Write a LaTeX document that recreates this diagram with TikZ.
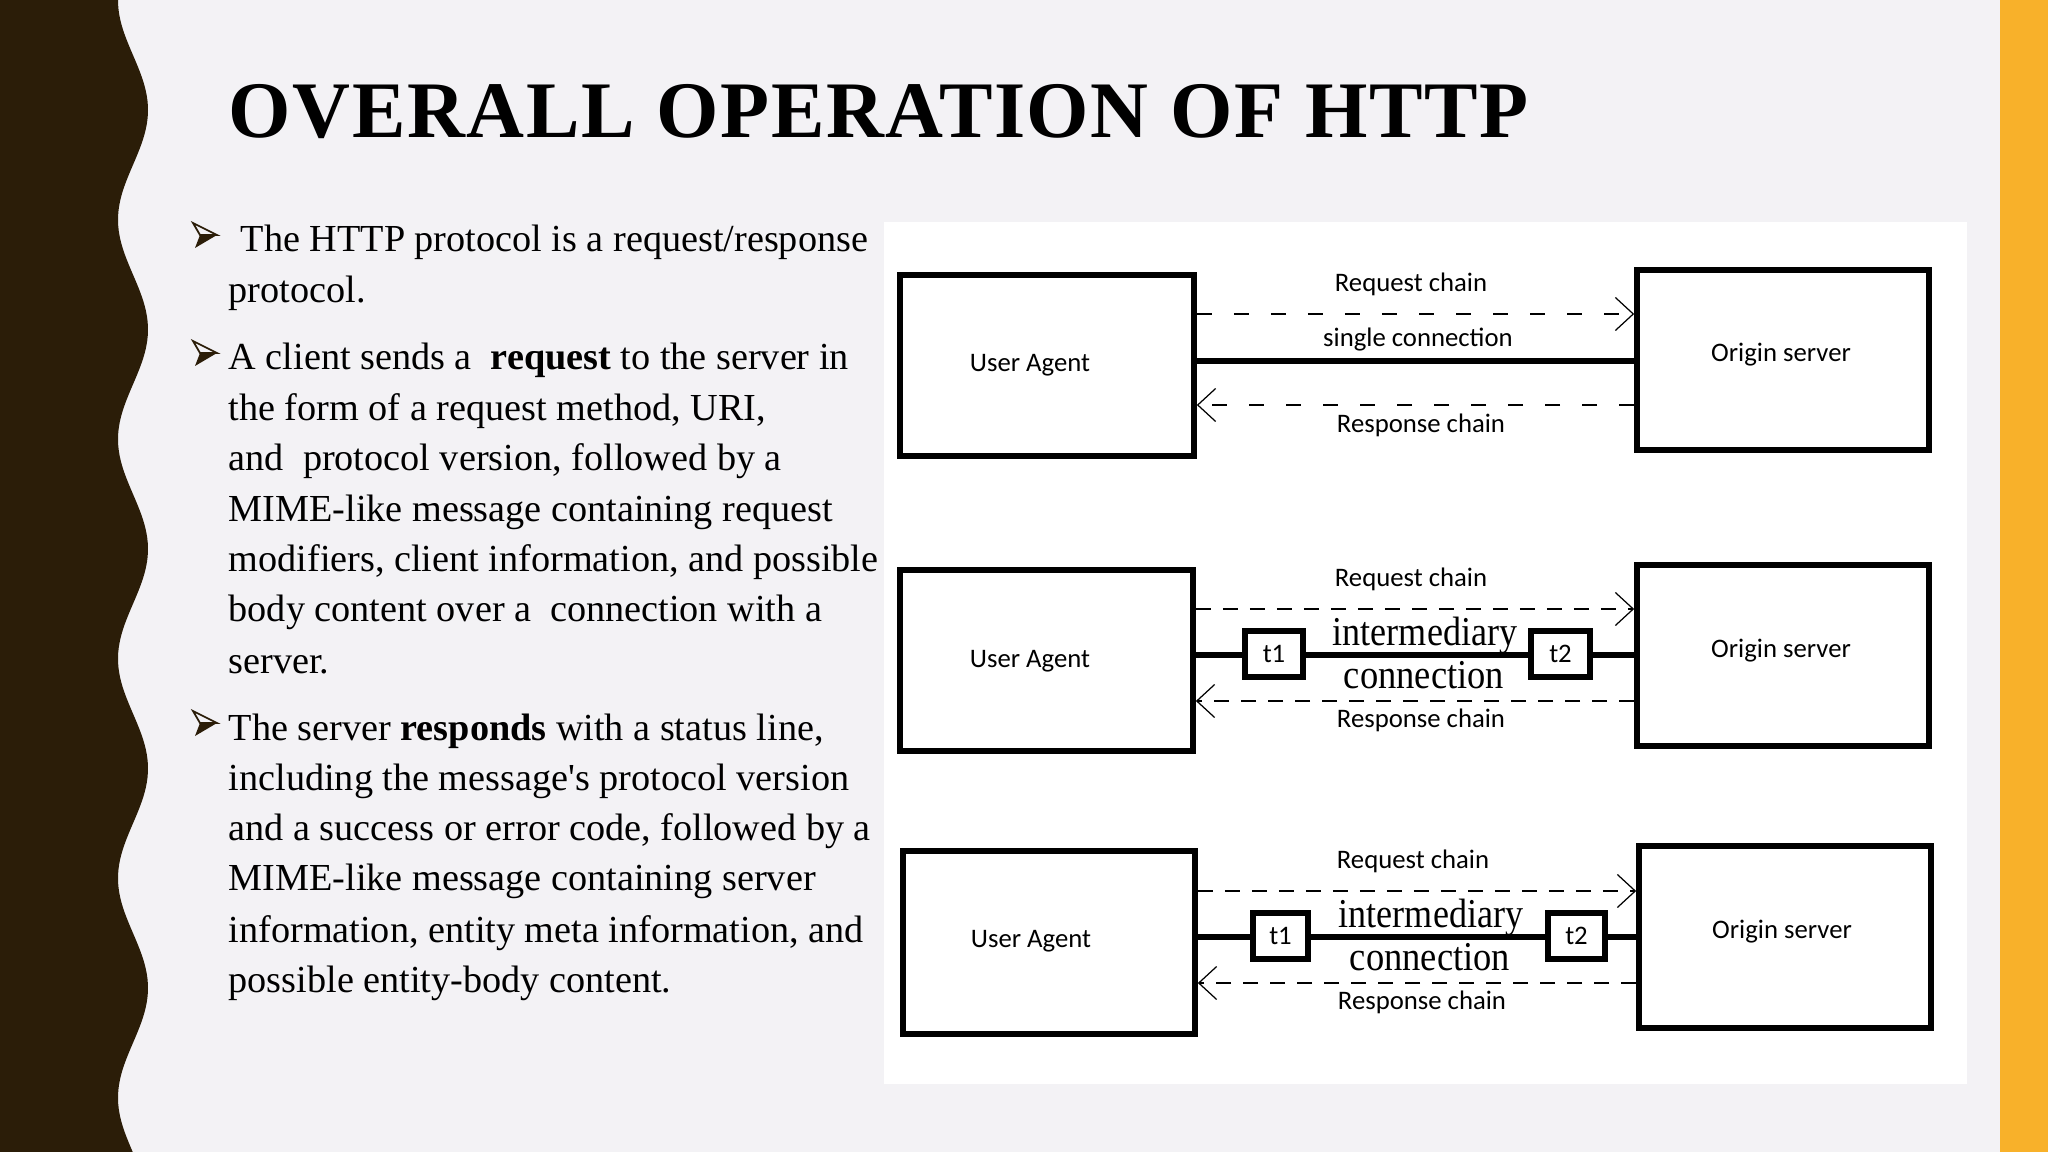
\documentclass[tikz,border=0pt]{standalone}
\usepackage{fontspec}
\usepackage{graphicx}
\setmainfont{Liberation Serif}
\newfontfamily\carl{Carlito}
\newfontfamily\titlefont[LetterSpace=2.0]{Liberation Serif}
\usetikzlibrary{arrows.meta}
\definecolor{slidebg}{HTML}{F3F2F5}
\definecolor{darkbrown}{HTML}{2B1D08}
\definecolor{orangebar}{HTML}{F8B12A}
\newcommand{\bodysize}{\fontsize{10.87pt}{13pt}\selectfont}
\newcommand{\labsize}{\carl\fontsize{7.6pt}{9pt}\selectfont}
\newcommand{\intsize}{\fontsize{11.66pt}{14pt}\selectfont}
\tikzset{
  bodytext/.style={anchor=base west, inner sep=0pt, font=\bodysize, text=black},
  bulletpic/.pic={
    \filldraw[fill=slidebg, draw=darkbrown, line width=0.5pt, line join=miter] (0,-29) -- (24,-17) -- (7,-17) -- cycle;
    \fill[darkbrown] (7,-17) -- (24,-17) -- (2,-4) -- cycle;
  },
  boxnode/.style={draw=black, line width=1.56pt, fill=white, inner sep=0pt, rectangle},
  tbox/.style={draw=black, line width=1.56pt, fill=white, inner sep=0pt, rectangle, font=\labsize},
  lab/.style={anchor=base, inner sep=0pt, font=\labsize},
  intlab/.style={anchor=base, inner sep=0pt, font=\intsize},
  conn/.style={line width=1.56pt},
  barb/.style={-{Straight Barb[length=5.1pt,width=9.4pt,line width=0.35pt]}},
  chainA/.style={line width=0.57pt, dash pattern=on 4.27pt off 6.26pt, barb},
  chainB/.style={line width=0.57pt, dash pattern=on 4.27pt off 3.41pt, barb}
}
\begin{document}
\begin{tikzpicture}[x=0.01cm,y=-0.01cm]
\useasboundingbox (0,0) rectangle (2048,1152);
\fill[slidebg] (0,0) rectangle (2048,1152);
\fill[orangebar] (2000,0) rectangle (2048,1152);
\fill[darkbrown] (0,0) -- plot[domain=0:1152,samples=241,variable=\t] ({133+15*cos(1.640091*(\t-110))},\t) -- (0,1152) -- cycle;
\fill[white] (884,222) rectangle (1967,1084);

% title
\node[anchor=base west, inner sep=0pt, font=\titlefont\bfseries\fontsize{22.8pt}{26pt}\selectfont] (title) at (228,138) {OVERALL OPERATION OF HTTP};

% bullets
\pic at (193,252) {bulletpic};
\pic at (193,370) {bulletpic};
\pic at (193,740) {bulletpic};

\node[bodytext] (l1) at (240,252) {The HTTP protocol is a request/response};
\node[bodytext] (l2) at (228,303) {protocol.};
\node[bodytext] (l3) at (228,370) {A client sends a\ \ \textbf{request} to the server in};
\node[bodytext] (l4) at (228,421) {the form of a request method, URI,};
\node[bodytext] (l5) at (228,471) {and\ \ protocol version, followed by a};
\node[bodytext] (l6) at (228,522) {MIME-like message containing request};
\node[bodytext] (l7) at (228,572) {modifiers, client information, and possible};
\node[bodytext] (l8) at (228,622) {body content over a\ \ connection with a};
\node[bodytext] (l9) at (228,673) {server.};
\node[bodytext] (m1) at (228,740) {The server \textbf{responds} with a status line,};
\node[bodytext] (m2) at (228,790) {including the message\textquotesingle s protocol version};
\node[bodytext] (m3) at (228,840) {and a success or error code, followed by a};
\node[bodytext] (m4) at (228,890) {MIME-like message containing server};
\node[bodytext] (m5) at (228,942) {information, entity meta information, and};
\node[bodytext] (m6) at (228,992) {possible entity-body content.};

% ---------- panel 1 ----------
\node[boxnode, minimum width=2.94cm, minimum height=1.81cm] (ua1) at (1047,365.5) {};
\node[boxnode, minimum width=2.92cm, minimum height=1.80cm] (os1) at (1783,360) {};
\node[lab] (ua1t) at (1030,372) {User Agent};
\node[lab] (os1t) at (1781,362) {Origin server};
\coordinate (rq1) at (1400,314);
\coordinate (cn1) at (1400,361);
\coordinate (rs1) at (1400,405);
\draw[chainA] (ua1.east |- rq1) -- (os1.west |- rq1);
\draw[conn] (ua1.east |- cn1) -- (os1.west |- cn1);
\draw[chainA] (os1.west |- rs1) -- (ua1.east |- rs1);
\node[lab] (rq1t) at (1411,292) {Request chain};
\node[lab] (cn1t) at (1418,347) {single connection};
\node[lab] (rs1t) at (1421,433) {Response chain};

% ---------- panel 2 ----------
\node[boxnode, minimum width=2.93cm, minimum height=1.81cm] (ua2) at (1046.5,660.5) {};
\node[boxnode, minimum width=2.92cm, minimum height=1.81cm] (os2) at (1783,655.5) {};
\node[lab] (ua2t) at (1030,667) {User Agent};
\node[lab] (os2t) at (1781,657) {Origin server};
\node[tbox, minimum width=0.58cm, minimum height=0.46cm] (t1a) at (1274,654) {t1};
\node[tbox, minimum width=0.59cm, minimum height=0.46cm] (t2a) at (1560.5,654) {t2};
\coordinate (rq2) at (1400,609);
\coordinate (cn2) at (1400,655);
\coordinate (rs2) at (1400,701);
\draw[chainB] (ua2.east |- rq2) -- (os2.west |- rq2);
\draw[conn] (ua2.east |- cn2) -- (t1a.west |- cn2);
\draw[conn] (t1a.east |- cn2) -- (t2a.west |- cn2);
\draw[conn] (t2a.east |- cn2) -- (os2.west |- cn2);
\draw[chainB] (os2.west |- rs2) -- (ua2.east |- rs2);
\node[lab] (rq2t) at (1411,587) {Request chain};
\node[intlab] (im2t) at (1425,646) {\scalebox{0.88}[1]{intermediary}};
\node[intlab] (cc2t) at (1424,688) {\scalebox{0.89}[1]{connection}};
\node[lab] (rs2t) at (1421,727) {Response chain};

% ---------- panel 3 ----------
\node[boxnode, minimum width=2.92cm, minimum height=1.83cm] (ua3) at (1049,942.5) {};
\node[boxnode, minimum width=2.92cm, minimum height=1.82cm] (os3) at (1785,937) {};
\node[lab] (ua3t) at (1031,947) {User Agent};
\node[lab] (os3t) at (1782,938) {Origin server};
\node[tbox, minimum width=0.55cm, minimum height=0.46cm] (t1b) at (1280.5,936) {t1};
\node[tbox, minimum width=0.57cm, minimum height=0.46cm] (t2b) at (1576.5,936) {t2};
\coordinate (rq3) at (1400,891);
\coordinate (cn3) at (1400,937);
\coordinate (rs3) at (1400,983);
\draw[chainB] (ua3.east |- rq3) -- (os3.west |- rq3);
\draw[conn] (ua3.east |- cn3) -- (t1b.west |- cn3);
\draw[conn] (t1b.east |- cn3) -- (t2b.west |- cn3);
\draw[conn] (t2b.east |- cn3) -- (os3.west |- cn3);
\draw[chainB] (os3.west |- rs3) -- (ua3.east |- rs3);
\node[lab] (rq3t) at (1413,868) {Request chain};
\node[intlab] (im3t) at (1431,927) {\scalebox{0.88}[1]{intermediary}};
\node[intlab] (cc3t) at (1430,970) {\scalebox{0.89}[1]{connection}};
\node[lab] (rs3t) at (1422,1009) {Response chain};
\end{tikzpicture}
\end{document}
